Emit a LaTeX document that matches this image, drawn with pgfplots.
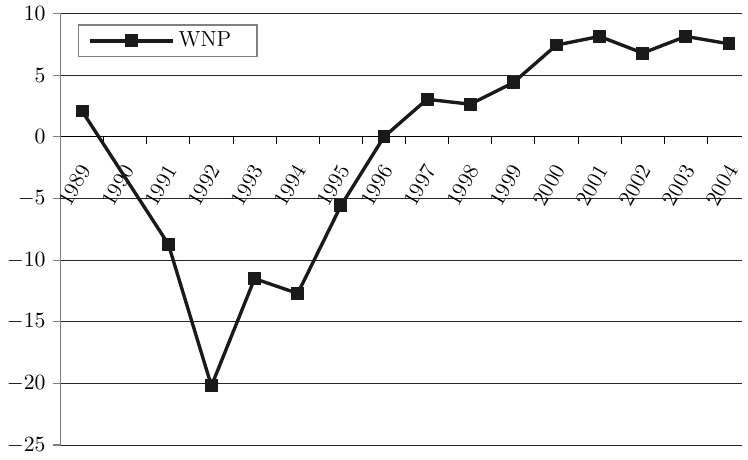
\documentclass[border=0pt]{standalone}
\usepackage{pgfplots}
\pgfplotsset{compat=1.18}
\definecolor{ln}{HTML}{1A1A1A}
\begin{document}
\begin{tikzpicture}
\begin{axis}[
  width=343.5pt, height=217.5pt, scale only axis,
  clip=false,
  xmin=-0.5, xmax=15.3,
  ymin=-25, ymax=10,
  ytick={-25,-20,...,10},
  axis y line*=left,
  axis x line*=middle,
  y axis line style={black!50, line width=0.7pt},
  x axis line style={black, line width=0.5pt},
  ymajorgrids,
  grid style={black!85, line width=0.5pt},
  xtick={0,...,15},
  xticklabels={1989,1990,1991,1992,1993,1994,1995,1996,1997,1998,1999,2000,2001,2002,2003,2004},
  major x tick style={draw=none},
  minor xtick={-0.5,0.5,...,14.5},
  minor x tick style={black, line width=0.5pt},
  minor tick length=3.5pt,
  xtick align=outside,
  ytick align=outside,
  major y tick style={black!50, line width=0.6pt},
  major tick length=4pt,
  yticklabel style={font=\fontsize{10.5}{12}\selectfont},
  xticklabel style={font=\fontsize{11}{13}\selectfont, xshift=3.5pt, yshift=-8pt, rotate=60, anchor=east},
  legend style={at={(0.025,0.975)}, anchor=north west, draw=black!50, line width=0.6pt,
    font=\fontsize{11}{13}\selectfont, inner xsep=5pt, inner ysep=1.5pt},
  legend image code/.code={\draw[mark repeat=2,mark phase=2,#1] plot coordinates {(0pt,0pt)(21pt,0pt)(42pt,0pt)};},
]
\addplot[ln, line width=1.7pt, line join=round, mark=square*, mark size=3pt, mark options={solid, fill=ln, line width=0.5pt}]
  coordinates {(0,2.1)(2,-8.7)(3,-20.2)(4,-11.5)(5,-12.7)(6,-5.6)(7,0)(8,3.05)(9,2.65)(10,4.4)(11,7.45)(12,8.15)(13,6.8)(14,8.15)(15,7.55)};
\addlegendentry{WNP\rule{6pt}{0pt}}
\coordinate (bl) at (rel axis cs:0,0);
\coordinate (tr) at (rel axis cs:1,1);
\end{axis}
\path[draw=none] ([xshift=-30.5pt,yshift=-4.5pt]bl) rectangle ([yshift=4pt]tr);
\end{tikzpicture}
\end{document}
